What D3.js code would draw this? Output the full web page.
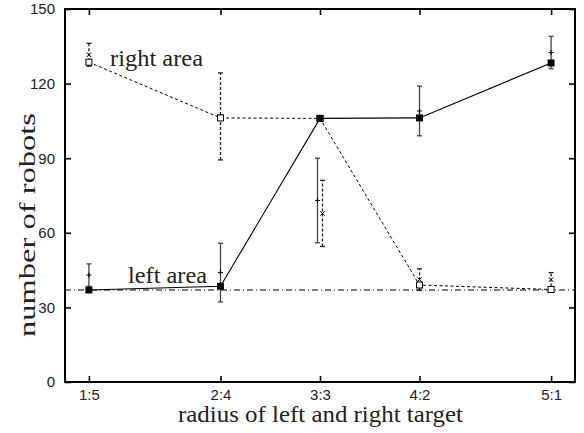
<!DOCTYPE html>
<html>
<head>
<meta charset="utf-8">
<script src="https://cdn.jsdelivr.net/npm/d3@7"></script>
<style>
  html, body { margin: 0; padding: 0; background: #fff; }
  svg { display: block; }
</style>
</head>
<body>
<svg id="chart" width="584" height="433"></svg>
<script>
// Target radius ratios (left:right); plotted on a log scale of left/right
const categories = ["1:5", "2:4", "3:3", "4:2", "5:1"];
const ratios = [1 / 5, 2 / 4, 3 / 3, 4 / 2, 5 / 1];

// Robots in the left area: median (squares) and mean ± deviation (+)
const leftMedian = [37, 38.5, 106, 106.2, 128.3];
const leftMean = [43, 44, 73, 109, 132.5];
const leftErr = [4.5, 11.8, 17, 10, 6.5];

// Robots in the right area: median (open squares) and mean ± deviation (x)
const rightMedian = [128.6, 106.2, 106, 39, 37.2];
const rightMean = [131.6, 106.8, 67.8, 41.2, 41.2];
const rightErr = [4.6, 17.5, 13.3, 4.3, 2.8];

// Reference level drawn across the plot
const baseline = 37;

const yTicks = [0, 30, 60, 90, 120, 150];

const svg = d3.select("#chart");
const pLeft = 65, pRight = 575, pTop = 9, pBottom = 382;

const lx = ratios.map(r => Math.log(r));
const x = d3.scaleLinear().domain([-1.776, 1.776]).range([pLeft, pRight]);
const y = d3.scaleLinear().domain([0, 150]).range([pBottom, pTop]);

// Pixel nudge so the two spreads at 3:3 sit side by side
const nudge = i => (categories[i] === "3:3" ? 2.5 : 0);

// Axes with inward ticks, mirrored on top and right
const tickFont = "'Liberation Sans', Arial, sans-serif";
const axB = svg.append("g").attr("transform", `translate(0,${pBottom})`)
  .call(d3.axisBottom(x).tickValues(lx).tickFormat((d, i) => categories[i]).tickSizeInner(-6).tickSizeOuter(0).tickPadding(7));
const axT = svg.append("g").attr("transform", `translate(0,${pTop})`)
  .call(d3.axisTop(x).tickValues(lx).tickFormat("").tickSizeInner(-6).tickSizeOuter(0));
const axL = svg.append("g").attr("transform", `translate(${pLeft},0)`)
  .call(d3.axisLeft(y).tickValues(yTicks).tickSizeInner(-6).tickSizeOuter(0).tickPadding(10));
const axR = svg.append("g").attr("transform", `translate(${pRight},0)`)
  .call(d3.axisRight(y).tickValues(yTicks).tickFormat("").tickSizeInner(-6).tickSizeOuter(0));
[axB, axT, axL, axR].forEach(a => {
  a.select(".domain").remove();
  a.selectAll(".tick line").attr("stroke", "#000").attr("stroke-width", 1.6);
  a.selectAll("text").attr("font-family", tickFont).attr("font-size", 15).attr("fill", "#222");
});

// Frame
svg.append("rect").attr("x", pLeft).attr("y", pTop)
  .attr("width", pRight - pLeft).attr("height", pBottom - pTop)
  .attr("fill", "none").attr("stroke", "#000").attr("stroke-width", 2);

// Dash-dot reference line
svg.append("line")
  .attr("x1", pLeft).attr("x2", pRight)
  .attr("y1", y(baseline)).attr("y2", y(baseline))
  .attr("stroke", "#000").attr("stroke-width", 1)
  .attr("stroke-dasharray", "6,3,1,3");

const line = d3.line().x((d, i) => x(lx[i])).y(d => y(d));

// Right-area median line (dashed)
svg.append("path").datum(rightMedian).attr("d", line)
  .attr("fill", "none").attr("stroke", "#000").attr("stroke-width", 1)
  .attr("stroke-dasharray", "3,2.5");

// Left-area median line (solid)
svg.append("path").datum(leftMedian).attr("d", line)
  .attr("fill", "none").attr("stroke", "#000").attr("stroke-width", 1.1);

// Error bars with caps
function errorBars(means, errs, dx, color, dash) {
  const g = svg.append("g").attr("stroke", color).attr("stroke-width", 1.3).attr("fill", "none");
  means.forEach((m, i) => {
    const cx = x(lx[i]) + dx(i);
    const y0 = y(m - errs[i]), y1 = y(m + errs[i]);
    g.append("line").attr("x1", cx).attr("x2", cx).attr("y1", y0).attr("y2", y1)
      .attr("stroke-dasharray", dash);
    [y0, y1].forEach(yy => g.append("line")
      .attr("x1", cx - 2.5).attr("x2", cx + 2.5).attr("y1", yy).attr("y2", yy));
  });
  return g;
}
errorBars(rightMean, rightErr, i => nudge(i), "#222", "3,2");
errorBars(leftMean, leftErr, i => -nudge(i), "#444", null);

// Mean markers: "+" for left, "x" for right
const gm = svg.append("g").attr("stroke", "#000").attr("stroke-width", 1);
leftMean.forEach((m, i) => {
  const cx = x(lx[i]) - nudge(i), cy = y(m);
  gm.append("line").attr("x1", cx - 2.5).attr("x2", cx + 2.5).attr("y1", cy).attr("y2", cy);
  gm.append("line").attr("x1", cx).attr("x2", cx).attr("y1", cy - 2.5).attr("y2", cy + 2.5);
});
rightMean.forEach((m, i) => {
  const cx = x(lx[i]) + nudge(i), cy = y(m);
  gm.append("path").attr("d", `M${cx - 2.3},${cy - 2.3}L${cx + 2.3},${cy + 2.3}M${cx - 2.3},${cy + 2.3}L${cx + 2.3},${cy - 2.3}`);
});

// Median markers
svg.append("g").selectAll("rect").data(rightMedian).join("rect")
  .attr("x", (d, i) => x(lx[i]) - 3).attr("y", d => y(d) - 3)
  .attr("width", 6).attr("height", 6)
  .attr("fill", "#fff").attr("stroke", "#000").attr("stroke-width", 1);
svg.append("g").selectAll("rect").data(leftMedian).join("rect")
  .attr("x", (d, i) => x(lx[i]) - 3.5).attr("y", d => y(d) - 3.5)
  .attr("width", 7).attr("height", 7).attr("fill", "#000");

// Text helper: serif labels stretched to a set length
const serif = "'Liberation Serif', 'Times New Roman', serif";
function label(str, size, len) {
  return svg.append("text").text(str)
    .attr("font-family", serif).attr("font-size", size).attr("fill", "#222")
    .attr("textLength", len).attr("lengthAdjust", "spacingAndGlyphs");
}

// Series labels
label("right area", 23, 93).attr("x", 110).attr("y", 66);
label("left area", 23, 79).attr("x", 128).attr("y", 283);

// Axis titles
label("radius of left and right target", 24, 285).attr("x", 178).attr("y", 422);
label("number of robots", 23, 224).attr("transform", "translate(35,337) rotate(-90)");
</script>
</body>
</html>
